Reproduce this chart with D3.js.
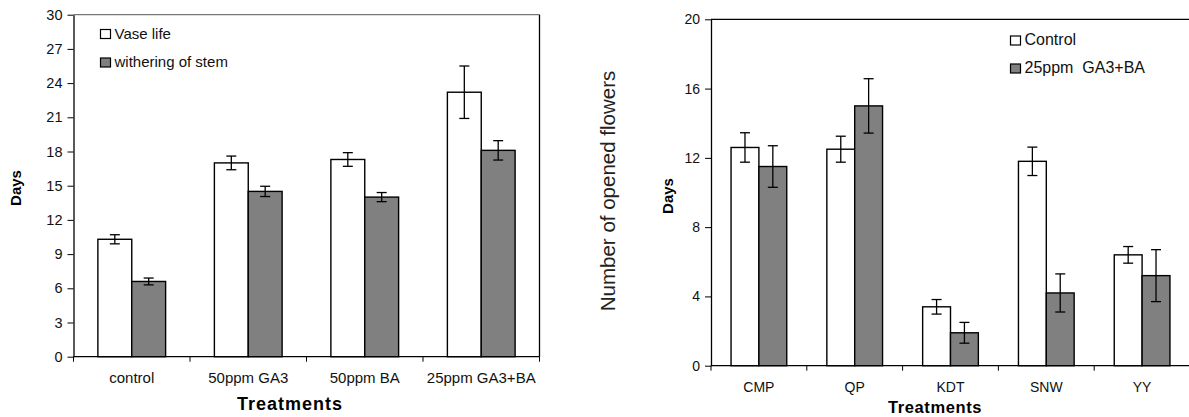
<!DOCTYPE html>
<html>
<head>
<meta charset="utf-8">
<script src="https://cdn.jsdelivr.net/npm/d3@7"></script>
<style>
  body { margin: 0; background: #fff; }
  svg { display: block; font-family: Arial, "Liberation Sans", sans-serif; }
  .axis path, .axis line { stroke: #000; }
</style>
</head>
<body>
<svg id="chart" width="1189" height="417"></svg>
<script>
// left panel: vase life vs withering
const leftCats = ['control', '50ppm GA3', '50ppm BA', '25ppm GA3+BA'];
const leftSeries = ['Vase life', 'withering of stem'];
const vaseLife = [10.3, 17.0, 17.3, 23.2];
const vaseLifeErr = [0.4, 0.6, 0.6, 2.3];
const stemWither = [6.6, 14.5, 14.0, 18.1];
const stemWitherErr = [0.3, 0.45, 0.4, 0.85];
const leftTicks = [0, 3, 6, 9, 12, 15, 18, 21, 24, 27, 30];

// right panel: opened flowers per cultivar
const rightCats = ['CMP', 'QP', 'KDT', 'SNW', 'YY'];
const rightSeries = ['Control', '25ppm  GA3+BA'];
const controlVals = [12.6, 12.5, 3.4, 11.8, 6.4];
const controlErr = [0.85, 0.75, 0.42, 0.82, 0.48];
const treatedVals = [11.5, 15.0, 1.9, 4.2, 5.2];
const treatedErr = [1.2, 1.57, 0.6, 1.1, 1.5];
const rightTicks = [0, 4, 8, 12, 16, 20];

const fills = ['#ffffff', '#808080'];
const svg = d3.select('#chart');

function drawPanel(cfg) {
    const g = svg.append('g');
    const x0 = d3.scaleBand().domain(cfg.cats).range([cfg.left, cfg.right]).padding(0);
    const x1 = d3.scaleBand().domain([0, 1]).range([0, x0.bandwidth()])
        .paddingInner(0).paddingOuter(0.72);
    const y = d3.scaleLinear().domain([0, cfg.max]).range([cfg.bottom, cfg.top]);

    // frame
    g.append('line')
        .attr('x1', cfg.left).attr('x2', cfg.right)
        .attr('y1', cfg.top).attr('y2', cfg.top)
        .attr('stroke', cfg.topColor).attr('stroke-width', 1.3);
    if (cfg.rightBorder) {
        g.append('line')
            .attr('x1', cfg.right).attr('x2', cfg.right)
            .attr('y1', cfg.top).attr('y2', cfg.bottom)
            .attr('stroke', '#000').attr('stroke-width', 1.3);
    }

    const rows = [];
    cfg.cats.forEach((c, i) => {
        cfg.values.forEach((vals, s) => {
            rows.push({ cat: c, s: s, v: vals[i], e: cfg.errs[s][i] });
        });
    });

    g.selectAll('rect.bar').data(rows).join('rect')
        .attr('class', 'bar')
        .attr('x', d => x0(d.cat) + x1(d.s))
        .attr('y', d => y(d.v))
        .attr('width', x1.bandwidth())
        .attr('height', d => y(0) - y(d.v))
        .attr('fill', d => fills[d.s])
        .attr('stroke', '#000')
        .attr('stroke-width', 1.4);

    // error bars
    const eb = g.selectAll('g.err').data(rows).join('g')
        .attr('class', 'err')
        .attr('transform', d => `translate(${x0(d.cat) + x1(d.s) + x1.bandwidth() / 2},0)`);
    eb.append('line')
        .attr('y1', d => y(d.v + d.e)).attr('y2', d => y(d.v - d.e))
        .attr('stroke', '#000').attr('stroke-width', 1.3);
    eb.append('line')
        .attr('x1', -5).attr('x2', 5)
        .attr('y1', d => y(d.v + d.e)).attr('y2', d => y(d.v + d.e))
        .attr('stroke', '#000').attr('stroke-width', 1.3);
    eb.append('line')
        .attr('x1', -5).attr('x2', 5)
        .attr('y1', d => y(d.v - d.e)).attr('y2', d => y(d.v - d.e))
        .attr('stroke', '#000').attr('stroke-width', 1.3);

    // y axis
    const yAxis = d3.axisLeft(y).tickValues(cfg.ticks).tickSize(6).tickSizeOuter(0).tickPadding(5);
    const yG = g.append('g').attr('class', 'axis')
        .attr('transform', `translate(${cfg.left},0)`)
        .call(yAxis);
    yG.selectAll('text').attr('font-size', cfg.tickFont).attr('fill', '#111');
    yG.select('.domain').attr('stroke-width', 1.3);

    // x axis: ticks at category boundaries
    const xG = g.append('g').attr('class', 'axis');
    xG.append('line')
        .attr('x1', cfg.left).attr('x2', cfg.right)
        .attr('y1', cfg.bottom).attr('y2', cfg.bottom)
        .attr('stroke', '#000').attr('stroke-width', 1.3);
    const bounds = cfg.cats.map(c => x0(c)).concat([cfg.right]);
    xG.selectAll('line.tk').data(bounds).join('line')
        .attr('class', 'tk')
        .attr('x1', d => d).attr('x2', d => d)
        .attr('y1', cfg.bottom).attr('y2', cfg.bottom + 5)
        .attr('stroke', '#000');
    xG.selectAll('text').data(cfg.cats).join('text')
        .attr('x', d => x0(d) + x0.bandwidth() / 2)
        .attr('y', cfg.catY)
        .attr('text-anchor', 'middle')
        .attr('font-size', cfg.catFont)
        .attr('fill', '#111')
        .text(d => d);

    // titles
    svg.append('text')
        .attr('transform', `translate(${cfg.yTitleX},${cfg.yTitleY}) rotate(-90)`)
        .attr('text-anchor', 'middle')
        .attr('font-size', 15).attr('font-weight', 'bold')
        .text('Days');
    svg.append('text')
        .attr('x', cfg.xTitleX).attr('y', cfg.xTitleY)
        .attr('text-anchor', 'middle')
        .attr('font-size', cfg.xTitleFont).attr('font-weight', 'bold')
        .attr('letter-spacing', cfg.xTitleSpacing)
        .text('Treatments');

    // legend
    const lg = g.append('g');
    cfg.series.forEach((name, s) => {
        lg.append('rect')
            .attr('x', cfg.legX).attr('y', cfg.legY[s] - 9)
            .attr('width', 10).attr('height', 9)
            .attr('fill', fills[s]).attr('stroke', '#000').attr('stroke-width', 1.2);
        lg.append('text')
            .attr('x', cfg.legX + 14).attr('y', cfg.legY[s])
            .attr('font-size', cfg.legFont)
            .attr('fill', '#111')
            .style('white-space', 'pre')
            .text(name);
    });
}

drawPanel({
    cats: leftCats, series: leftSeries,
    values: [vaseLife, stemWither], errs: [vaseLifeErr, stemWitherErr],
    ticks: leftTicks, max: 30,
    left: 73.5, right: 539.5, top: 14.7, bottom: 356.7,
    topColor: '#777', rightBorder: true,
    tickFont: 14.5, catFont: 15, catY: 382.5,
    yTitleX: 21, yTitleY: 188,
    xTitleX: 290, xTitleY: 410, xTitleFont: 18, xTitleSpacing: 1,
    legX: 100.5, legY: [38.5, 67], legFont: 15
});

drawPanel({
    cats: rightCats, series: rightSeries,
    values: [controlVals, treatedVals], errs: [controlErr, treatedErr],
    ticks: rightTicks, max: 20,
    left: 711, right: 1190, top: 19.3, bottom: 365.7,
    topColor: '#000', rightBorder: false,
    tickFont: 14, catFont: 14, catY: 391.5,
    yTitleX: 672.5, yTitleY: 196,
    xTitleX: 935, xTitleY: 413, xTitleFont: 16.5, xTitleSpacing: 0.6,
    legX: 1010.5, legY: [45, 73], legFont: 16
});

// stray axis title between the panels
svg.append('text')
    .attr('transform', 'translate(615,191) rotate(-90)')
    .attr('text-anchor', 'middle')
    .attr('font-size', 20.5)
    .attr('fill', '#222')
    .text('Number of opened flowers');
</script>
</body>
</html>
